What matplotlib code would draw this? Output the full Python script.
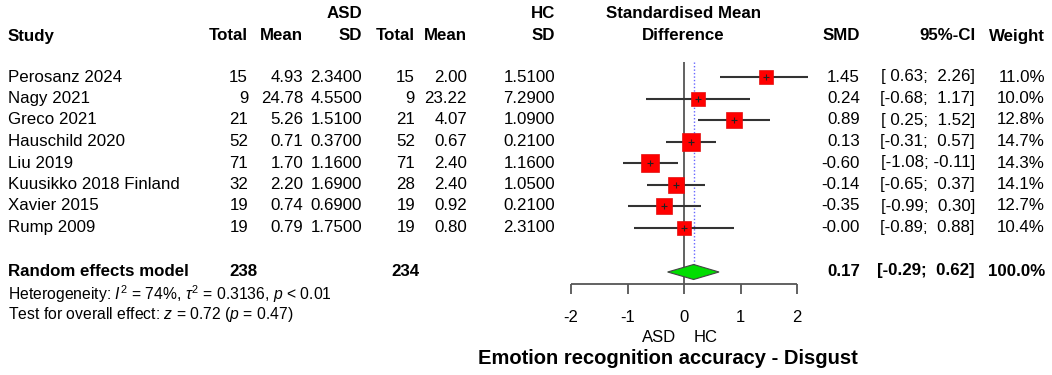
import numpy as np
import matplotlib
matplotlib.use("Agg")
import matplotlib.pyplot as plt
from matplotlib import transforms

plt.rcParams['font.family'] = ['Liberation Sans', 'DejaVu Sans']
plt.rcParams['mathtext.fontset'] = 'custom'
plt.rcParams['mathtext.rm'] = 'Liberation Sans'
plt.rcParams['mathtext.it'] = 'Liberation Sans:italic'

# data
studies = ['Perosanz 2024', 'Nagy 2021', 'Greco 2021', 'Hauschild 2020',
           'Liu 2019', 'Kuusikko 2018 Finland', 'Xavier 2015', 'Rump 2009']
asd_n = [15, 9, 21, 52, 71, 32, 19, 19]
asd_mean = [4.93, 24.78, 5.26, 0.71, 1.70, 2.20, 0.74, 0.79]
asd_sd = [2.34, 4.55, 1.51, 0.37, 1.16, 1.69, 0.69, 1.75]
hc_n = [15, 9, 21, 52, 71, 28, 19, 19]
hc_mean = [2.00, 23.22, 4.07, 0.67, 2.40, 2.40, 0.92, 0.80]
hc_sd = [1.51, 7.29, 1.09, 0.21, 1.16, 1.05, 0.21, 2.31]
smd = [1.45, 0.24, 0.89, 0.13, -0.60, -0.14, -0.35, -0.0]
ci_lo = [0.63, -0.68, 0.25, -0.31, -1.08, -0.65, -0.99, -0.89]
ci_hi = [2.26, 1.17, 1.52, 0.57, -0.11, 0.37, 0.30, 0.88]
weight = [11.0, 10.0, 12.8, 14.7, 14.3, 14.1, 12.7, 10.4]

pooled_smd, pooled_lo, pooled_hi = 0.17, -0.29, 0.62
asd_total, hc_total = 238, 234
ticks = [-2, -1, 0, 1, 2]

W, H = 1052, 375
fig = plt.figure(figsize=(W / 100, H / 100), dpi=100)

# forest axes: x in SMD units, y in rows (row 0 = first study)
px_per_unit = 56.5
x0_px = 684
row_px = 21.5
row0_px = 77
left_px, right_px = 560, 808
ax = fig.add_axes([left_px / W, 0, (right_px - left_px) / W, 1])
ax.set_xlim((left_px - x0_px) / px_per_unit, (right_px - x0_px) / px_per_unit)
ax.set_ylim((H - row0_px) / row_px, -row0_px / row_px)
ax.axis('off')

tr = transforms.blended_transform_factory(fig.transFigure, ax.transData)

def fx(px):
    return px / W

def fy(py):
    return (py - row0_px) / row_px

n = len(studies)
rows = np.arange(n)
pooled_row = fy(272)
axis_row = fy(284)

# reference lines
ax.vlines(0, fy(62), axis_row, color='#555555', lw=1.3, zorder=1)
ax.vlines(pooled_smd, fy(62), pooled_row, color='#6666ff', lw=1.0,
          linestyles=(0, (1, 1.5)), zorder=1)

# study CIs and squares
for i in range(n):
    ax.hlines(rows[i], ci_lo[i], ci_hi[i], color='#333333', lw=1.5, zorder=2)
    ax.plot(smd[i], rows[i], marker='s', ms=3.25 * np.sqrt(weight[i]),
            mfc='#ff0000', mec='#e01010', mew=0.5, zorder=3)
    ax.plot(smd[i], rows[i], marker='+', ms=4, color='#222222', mew=0.8, zorder=4)

# pooled diamond
dh = 7.5 / row_px
ax.fill([pooled_lo, pooled_smd, pooled_hi, pooled_smd],
        [pooled_row, pooled_row - dh, pooled_row, pooled_row + dh],
        facecolor='#00dd00', edgecolor='#444444', lw=0.8, zorder=3)

# x axis
ax.hlines(axis_row, ticks[0], ticks[-1], color='#555555', lw=1.3)
for t in ticks:
    ax.vlines(t, axis_row, fy(294), color='#555555', lw=1.3)
    ax.text(t, fy(317), str(t), ha='center', va='center', fontsize=12)
ax.text(-0.45, fy(338), 'ASD', ha='center', va='center', fontsize=12)
ax.text(0.39, fy(338), 'HC', ha='center', va='center', fontsize=12)
fig.text(fx(668), 1 - 359 / H, 'Emotion recognition accuracy - Disgust',
         ha='center', va='center', fontsize=14.5, fontweight='bold')

# headers
fs = 12.2
hdr1 = fy(13)
hdr2 = fy(36)
bold = dict(fontsize=fs, fontweight='bold', va='center', transform=tr)
ax.text(fx(8), hdr2, 'Study', ha='left', **bold)
ax.text(fx(362), hdr1, 'ASD', ha='right', **bold)
ax.text(fx(555), hdr1, 'HC', ha='right', **bold)
for x, lab in [(248, 'Total'), (303, 'Mean'), (362, 'SD'),
               (415, 'Total'), (467, 'Mean'), (555, 'SD'),
               (860, 'SMD'), (975, '95%-CI'), (1045, 'Weight')]:
    ax.text(fx(x), hdr2, lab, ha='right', **bold)
ax.text(fx(683), hdr1, 'Standardised Mean', ha='center', **bold)
ax.text(fx(683), hdr2, 'Difference', ha='center', **bold)

# study rows
norm = dict(fontsize=fs, va='center', transform=tr)
for i in range(n):
    r = rows[i]
    ax.text(fx(8), r, studies[i], ha='left', **norm)
    ax.text(fx(248), r, f'{asd_n[i]}', ha='right', **norm)
    ax.text(fx(303), r, f'{asd_mean[i]:.2f}', ha='right', **norm)
    ax.text(fx(362), r, f'{asd_sd[i]:.4f}', ha='right', **norm)
    ax.text(fx(415), r, f'{hc_n[i]}', ha='right', **norm)
    ax.text(fx(467), r, f'{hc_mean[i]:.2f}', ha='right', **norm)
    ax.text(fx(555), r, f'{hc_sd[i]:.4f}', ha='right', **norm)
    ax.text(fx(860), r, f'{smd[i]:.2f}', ha='right', **norm)
    ax.text(fx(975), r, f'[{ci_lo[i]:5.2f}; {ci_hi[i]:5.2f}]', ha='right', **norm)
    ax.text(fx(1045), r, f'{weight[i]:.1f}%', ha='right', **norm)

# pooled row
pr = fy(271)
ax.text(fx(8), pr, 'Random effects model', ha='left', **bold)
ax.text(fx(257), pr, f'{asd_total}', ha='right', **bold)
ax.text(fx(420), pr, f'{hc_total}', ha='right', **bold)
ax.text(fx(860), pr, f'{pooled_smd:.2f}', ha='right', **bold)
ax.text(fx(975), pr, f'[{pooled_lo:5.2f}; {pooled_hi:5.2f}]', ha='right', **bold)
ax.text(fx(1045), pr, '100.0%', ha='right', **bold)

small = dict(fontsize=11.3, va='center', ha='left', transform=tr)
ax.text(fx(8), fy(294),
        r'Heterogeneity: $I^2$ = 74%, $\tau^2$ = 0.3136, $p$ < 0.01', **small)
ax.text(fx(8), fy(315),
        r'Test for overall effect: $z$ = 0.72 ($p$ = 0.47)', **small)

fig.savefig('out.png', dpi=100)
